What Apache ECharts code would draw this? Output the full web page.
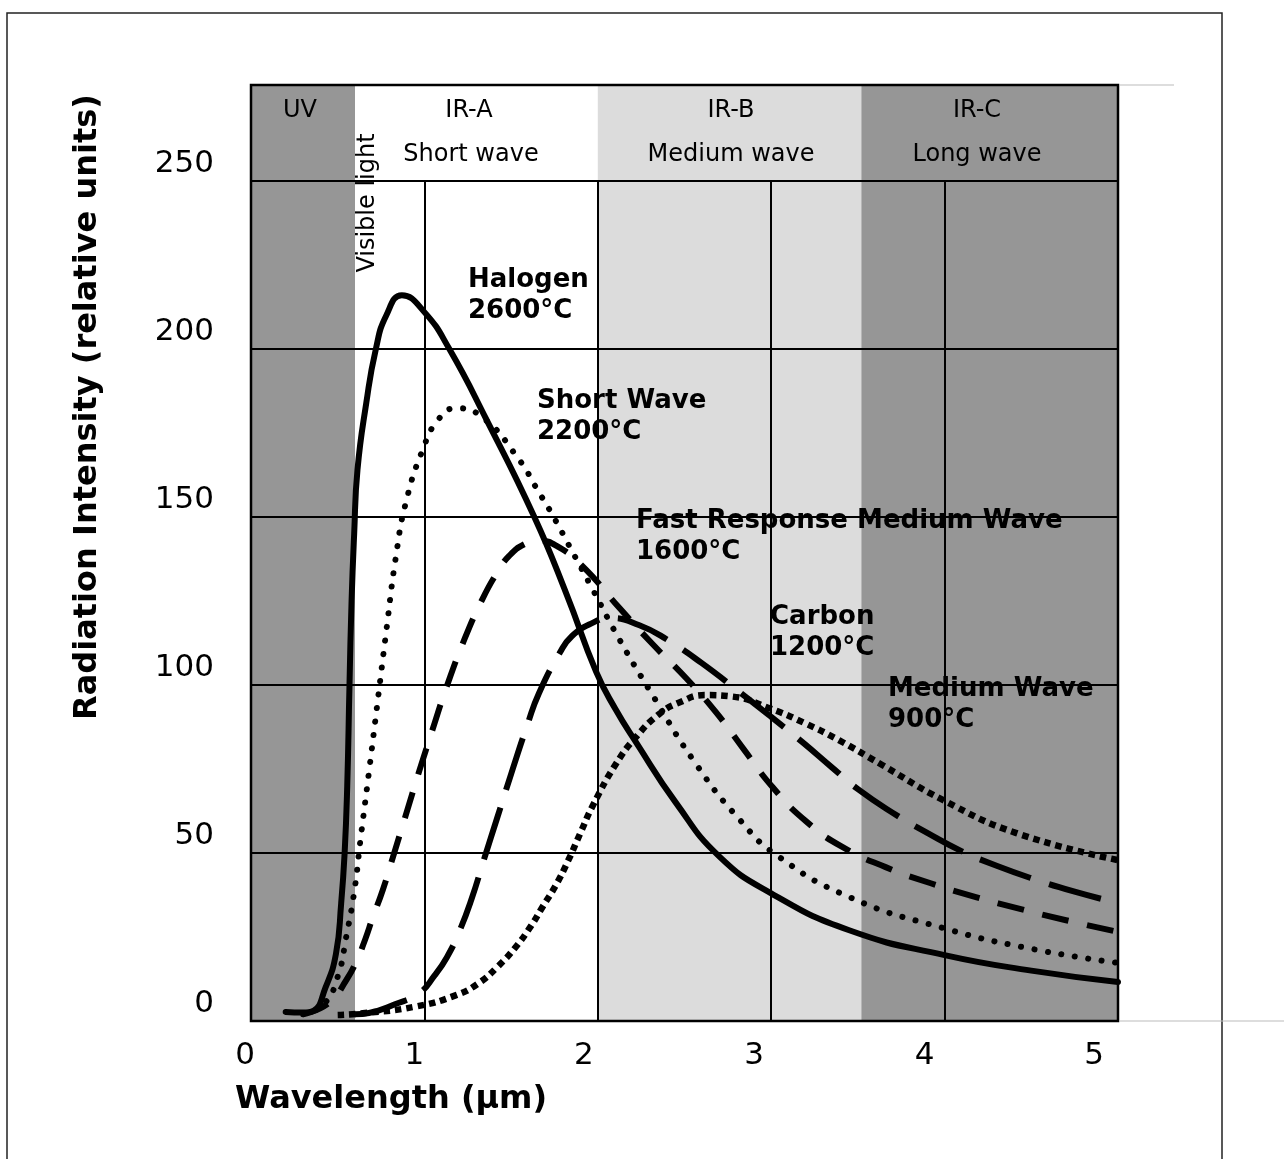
<!DOCTYPE html>
<html><head><meta charset="utf-8">
<script src="https://cdn.jsdelivr.net/npm/echarts@6/dist/echarts.min.js"></script>
<style>html,body{margin:0;padding:0;background:#fff}#c{width:1284px;height:1159px}</style>
</head><body><div id="c"></div>
<script>
// ---- data ----
const xTickValues = [0, 1, 2, 3, 4, 5];
const yTickValues = [0, 50, 100, 150, 200, 250];
const gridXValues = [1, 2, 3, 4];
const bandEdges = [0, 0.6, 2, 3.52, 5];
const regionTitles = ['UV', 'IR-A', 'IR-B', 'IR-C'];
const regionSubtitles = ['', 'Short wave', 'Medium wave', 'Long wave'];
const seriesNames = ['Halogen 2600°C', 'Short Wave 2200°C', 'Fast Response Medium Wave 1600°C', 'Carbon 1200°C', 'Medium Wave 900°C'];
const curveLabelLines = [['Halogen', '2600°C'], ['Short Wave', '2200°C'], ['Fast Response Medium Wave', '1600°C'], ['Carbon', '1200°C'], ['Medium Wave', '900°C']];

const halogen = [[0.2,2.7],[0.3,2.5],[0.36,3],[0.43,10],[0.49,20],[0.52,35],[0.54,50],[0.555,70],[0.568,100],[0.58,125],[0.595,145],[0.614,164],[0.665,184],[0.72,200],[0.78,210],[0.87,216],[1.0,211],[1.144,200],[1.358,179],[1.634,150],[1.82,127],[1.99,104],[2.1,93],[2.22,83],[2.45,65],[2.7,49],[3.0,38],[3.45,27],[4.0,19.6],[4.5,15],[5.0,11.6]];
const shortWave = [[0.3,2],[0.42,5],[0.5,13.2],[0.549,25],[0.597,39],[0.63,53.4],[0.68,74],[0.73,95],[0.78,116],[0.837,138.7],[0.894,154.5],[0.99,170],[1.08,179],[1.183,182.4],[1.334,179.7],[1.536,167.8],[1.66,157.4],[1.74,150.5],[1.85,140],[1.97,128.5],[2.12,114],[2.31,97.5],[2.57,76.2],[2.82,59.8],[3.03,49.4],[3.45,36.9],[3.99,27.7],[4.5,21.5],[5.0,17.3]];
const fastResponse = [[0.3,2],[0.45,5.4],[0.55,12.2],[0.61,18],[0.66,24.5],[0.7,30.5],[0.76,39],[0.82,49],[0.885,60],[0.971,74.5],[1.058,88.5],[1.125,99],[1.23,113.5],[1.334,125.5],[1.42,133.5],[1.49,138.5],[1.58,142],[1.66,143],[1.76,141.5],[1.91,135.5],[2.12,123.2],[2.31,112.5],[2.51,102],[2.68,92],[2.84,81],[3.01,69.5],[3.2,59.5],[3.41,51.8],[3.66,45.8],[3.92,41],[4.18,36.9],[4.44,33.3],[4.7,30],[5.0,26.5]];
const carbon = [[0.6,2],[0.68,2.4],[0.83,5],[0.97,8.3],[1.058,13.5],[1.13,19],[1.2,26.5],[1.27,36],[1.346,48.5],[1.42,60.5],[1.5,73.5],[1.596,88.5],[1.66,97.5],[1.78,109.5],[1.85,114.5],[1.97,118.5],[2.07,120],[2.24,117.8],[2.4,113.5],[2.6,106.5],[2.84,97],[3.0,90.5],[3.18,83],[3.35,75.5],[3.5,69],[3.7,62],[3.9,56],[4.1,50.5],[4.3,46.2],[4.5,42.5],[4.75,38.5],[5.0,35.1]];
const mediumWave = [[0.5,1.8],[0.645,2.3],[0.95,4.3],[1.183,7.7],[1.317,11.4],[1.423,16.2],[1.528,22.1],[1.615,28.3],[1.682,34],[1.759,40.5],[1.826,47.4],[1.9,56],[1.97,64],[2.107,76.7],[2.22,84.5],[2.35,91.2],[2.47,94.8],[2.62,97],[2.77,96.6],[2.99,93.1],[3.2,88.5],[3.39,83.6],[3.64,76.2],[3.99,65.8],[4.41,56],[5.0,47.9]];

// ---- styles ----
const FONT = '"DejaVu Sans", Verdana, sans-serif';
const bandColors = ['#969696', '#ffffff', '#dcdcdc', '#969696'];
const xLabelShift = [6, 10, 14, 17, 20, 24];
const curveData = [halogen, shortWave, fastResponse, carbon, mediumWave];
const curveStyles = [
  {width: 6, type: 'solid', cap: 'round'},
  {width: 6, type: [0.1, 13.5], cap: 'round'},
  {width: 6, type: [27, 19], cap: 'butt'},
  {width: 6, type: [54, 19], cap: 'butt'},
  {width: 6.5, type: [6.5, 5], cap: 'butt'}
];
const regionTitlePos = [[300,111],[469,111],[731,111],[977,111]];
const regionSubPos = [[300,155],[471,155],[731,155],[977,155]];
const curveLabelPos = [[468,280],[537,401],[636,521],[770,617],[888,689]];

const chart = echarts.init(document.getElementById('c'), null, {renderer: 'canvas'});

const rich = {};
xTickValues.forEach((v, i) => {
  rich['t' + i] = {fontSize: 31, fontFamily: FONT, color: '#000', padding: [0, xLabelShift[i] * 2, 0, 0]};
});

const series = [];
series.push({
  type: 'line', name: 'bands', data: [], z: -2, silent: true,
  markArea: {
    silent: true, z: -2,
    label: {show: false},
    data: bandColors.map((c, i) => [
      {xAxis: bandEdges[i], itemStyle: {color: c, opacity: 1}},
      {xAxis: bandEdges[i + 1]}
    ])
  }
});
series.push({
  type: 'line', name: 'vgrid', data: [], z: 1, silent: true,
  markLine: {
    silent: true, z: 1, symbol: ['none', 'none'], label: {show: false},
    lineStyle: {color: '#000', width: 2, type: 'solid'},
    data: gridXValues.map(v => [{coord: [v, 0]}, {coord: [v, yTickValues[yTickValues.length - 1]]}])
  }
});
curveData.forEach((d, i) => {
  series.push({
    type: 'line', name: seriesNames[i], data: d, showSymbol: false, symbol: 'none',
    smooth: 0.5, z: 3,
    lineStyle: Object.assign({color: '#000', join: 'round'}, curveStyles[i])
  });
});

const graphics = [];
regionTitles.forEach((t, i) => {
  graphics.push({type: 'text', x: regionTitlePos[i][0], y: regionTitlePos[i][1], z: 50,
    style: {text: t, font: '24px ' + FONT, fill: '#000', align: 'center', verticalAlign: 'middle'}});
  if (regionSubtitles[i]) graphics.push({type: 'text', x: regionSubPos[i][0], y: regionSubPos[i][1], z: 50,
    style: {text: regionSubtitles[i], font: '24px ' + FONT, fill: '#000', align: 'center', verticalAlign: 'middle'}});
});
graphics.push({type: 'text', x: 368, y: 203, rotation: Math.PI / 2, z: 50,
  style: {text: 'Visible light', font: '24px ' + FONT, fill: '#000', align: 'center', verticalAlign: 'middle'}});
curveLabelLines.forEach((lines, i) => {
  lines.forEach((ln, j) => {
    graphics.push({type: 'text', x: curveLabelPos[i][0], y: curveLabelPos[i][1] + j * 31, z: 50,
      style: {text: ln, font: 'bold 26px ' + FONT, fill: '#000', align: 'left', verticalAlign: 'middle'}});
  });
});
graphics.push({type: 'text', x: 235, y: 1100, z: 50,
  style: {text: 'Wavelength (µm)', font: 'bold 32px ' + FONT, fill: '#000', align: 'left', verticalAlign: 'middle'}});
graphics.push({type: 'text', x: 88, y: 407, rotation: Math.PI / 2, z: 50,
  style: {text: 'Radiation Intensity (relative units)', font: 'bold 32px ' + FONT, fill: '#000', align: 'center', verticalAlign: 'middle'}});
graphics.push({type: 'rect', z: 40, shape: {x: 7, y: 13, width: 1215, height: 1160},
  style: {fill: 'none', stroke: '#222', lineWidth: 1.5}});
graphics.push({type: 'line', z: 40, shape: {x1: 1119, y1: 85, x2: 1174, y2: 85}, style: {stroke: '#bbb', lineWidth: 1}});
graphics.push({type: 'line', z: 40, shape: {x1: 1119, y1: 1021, x2: 1284, y2: 1021}, style: {stroke: '#bbb', lineWidth: 1}});

chart.setOption({
  animation: false,
  backgroundColor: '#fff',
  grid: {left: 251, right: 166, top: 85, bottom: 138, show: true, borderColor: '#000', borderWidth: 2.5, backgroundColor: 'transparent', containLabel: false},
  xAxis: {
    type: 'value', min: 0, max: 5, interval: 1,
    axisLine: {show: false}, axisTick: {show: false}, splitLine: {show: false},
    axisLabel: {
      margin: 19, fontSize: 31, fontFamily: FONT, color: '#000',
      formatter: v => { const i = xTickValues.indexOf(v); return i < 0 ? '' : '{t' + i + '|' + v + '}'; },
      rich: rich
    }
  },
  yAxis: {
    type: 'value', min: 0, max: 278.6, interval: 50,
    axisLine: {show: false}, axisTick: {show: false},
    splitLine: {show: true, lineStyle: {color: '#000', width: 2}},
    axisLabel: {
      margin: 37, fontSize: 31, fontFamily: FONT, color: '#000', verticalAlign: 'bottom',
      showMaxLabel: false, padding: [0, 0, 2, 0],
      formatter: v => yTickValues.indexOf(v) >= 0 ? String(v) : ''
    }
  },
  series: series,
  graphic: graphics
});
</script></body></html>
